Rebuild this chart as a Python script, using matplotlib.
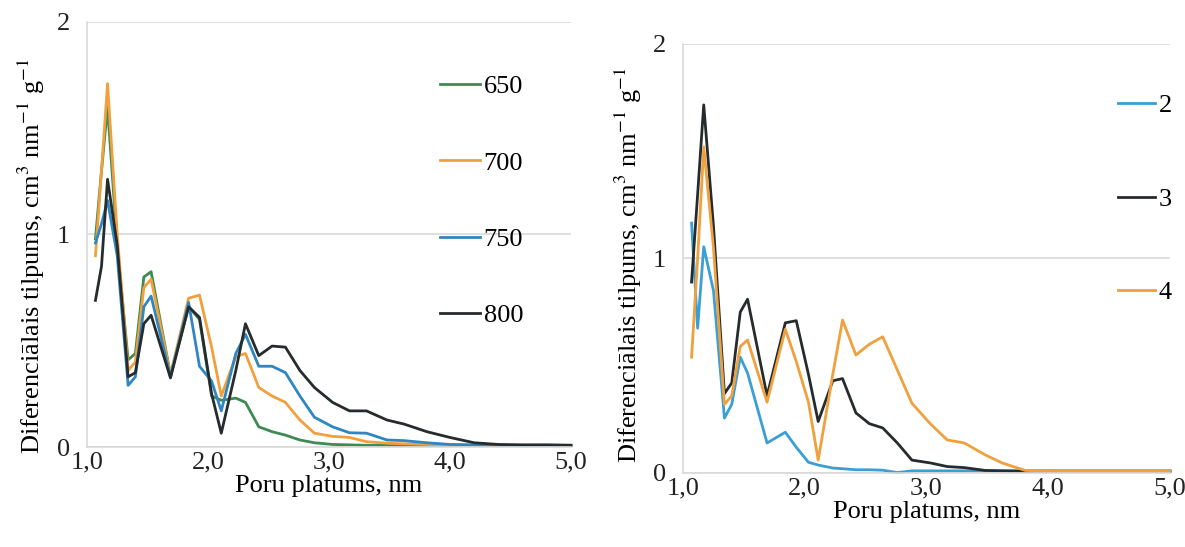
import numpy as np
import matplotlib
matplotlib.use("Agg")
import matplotlib.pyplot as plt

plt.rcParams['font.family'] = ['Liberation Serif', 'DejaVu Serif']
plt.rcParams['mathtext.fontset'] = 'stix'

# Poru platums, nm (kopigs rezgis abiem grafikiem)
x = [1.07, 1.12, 1.17, 1.25, 1.34, 1.40, 1.47, 1.53, 1.69, 1.84, 1.93, 2.03,
     2.11, 2.23, 2.31, 2.42, 2.53, 2.64, 2.76, 2.88, 3.03, 3.17, 3.31, 3.48,
     3.62, 3.81, 4.00, 4.20, 4.40, 4.60, 4.80, 5.00]

# kreisais grafiks
y650 = [0.98, 1.30, 1.60, 0.95, 0.41, 0.44, 0.80, 0.825, 0.34, 0.66, 0.60, 0.24,
        0.22, 0.23, 0.21, 0.095, 0.072, 0.056, 0.033, 0.020, 0.012, 0.010, 0.008, 0.008,
        0.008, 0.008, 0.008, 0.008, 0.008, 0.008, 0.008, 0.008]
y700 = [0.90, 1.30, 1.71, 1.00, 0.36, 0.40, 0.75, 0.79, 0.34, 0.70, 0.715, 0.47,
        0.24, 0.425, 0.44, 0.28, 0.24, 0.21, 0.127, 0.065, 0.050, 0.045, 0.025, 0.018,
        0.015, 0.012, 0.010, 0.008, 0.008, 0.008, 0.008, 0.008]
y750 = [0.96, 1.05, 1.16, 0.90, 0.29, 0.33, 0.66, 0.71, 0.33, 0.68, 0.38, 0.31,
        0.17, 0.44, 0.53, 0.38, 0.38, 0.35, 0.24, 0.14, 0.095, 0.067, 0.065, 0.033,
        0.030, 0.020, 0.012, 0.010, 0.008, 0.008, 0.008, 0.008]
y800 = [0.69, 0.85, 1.26, 0.95, 0.33, 0.35, 0.58, 0.62, 0.325, 0.66, 0.61, 0.25,
        0.065, 0.36, 0.58, 0.43, 0.475, 0.47, 0.36, 0.28, 0.21, 0.17, 0.17, 0.127,
        0.108, 0.072, 0.045, 0.020, 0.012, 0.010, 0.010, 0.008]

# labais grafiks
y2 = [1.165, 0.675, 1.055, 0.85, 0.256, 0.32, 0.54, 0.466, 0.14, 0.19, 0.12, 0.05,
      0.037, 0.023, 0.020, 0.015, 0.015, 0.013, 0.002, 0.010, 0.010, 0.010, 0.010, 0.010,
      0.010, 0.010, 0.010, 0.010, 0.010, 0.010, 0.010, 0.010]
y3 = [0.89, 1.30, 1.716, 1.15, 0.37, 0.42, 0.75, 0.81, 0.36, 0.70, 0.71, 0.46,
      0.24, 0.43, 0.44, 0.28, 0.23, 0.21, 0.14, 0.06, 0.047, 0.030, 0.025, 0.012,
      0.010, 0.008, 0.008, 0.008, 0.008, 0.008, 0.008, 0.008]
y4 = [0.54, 1.00, 1.52, 1.05, 0.32, 0.36, 0.59, 0.62, 0.33, 0.67, 0.52, 0.33,
      0.06, 0.46, 0.713, 0.55, 0.60, 0.635, 0.48, 0.325, 0.23, 0.154, 0.14, 0.085,
      0.047, 0.012, 0.008, 0.008, 0.008, 0.008, 0.008, 0.008]

xticks = [1, 2, 3, 4, 5]
xticklabels = ["1,0", "2,0", "3,0", "4,0", "5,0"]
yticks = [0, 1, 2]

ylab = 'Diferenciālais tilpums, cm$^3$ nm$^{-1}$ g$^{-1}$'
xlab = 'Poru platums, nm'
FS = 19
grid_c = '#d9d9d9'
LW = 2.0


def style(ax, ylab_xy):
    ax.set_xlim(1, 5)
    ax.set_ylim(0, 2)
    ax.set_xticks(xticks)
    ax.set_xticklabels(xticklabels)
    ax.set_yticks(yticks)
    ax.tick_params(length=0, labelsize=FS, colors='#222222')
    ax.tick_params(axis='y', pad=12)
    ax.tick_params(axis='x', pad=3)
    for s in ['top', 'right']:
        ax.spines[s].set_visible(False)
    for s in ['left', 'bottom']:
        ax.spines[s].set_color(grid_c)
        ax.spines[s].set_linewidth(1.2)
    ax.yaxis.grid(True, color=grid_c, linewidth=1.2)
    ax.set_axisbelow(True)
    ax.set_xlabel(xlab, fontsize=FS, labelpad=1)
    ax.set_ylabel(ylab, fontsize=19)
    ax.yaxis.set_label_coords(*ylab_xy)


fig = plt.figure(figsize=(11.85, 5.47), dpi=100)

ax1 = fig.add_axes([0.0734, 0.1828, 0.4084, 0.777])
ax1.plot(x, y650, color='#3d8a52', lw=LW, label='650', clip_on=False)
ax1.plot(x, y700, color='#f0a03c', lw=LW, label='700', clip_on=False)
ax1.plot(x, y750, color='#2f86c0', lw=LW, label='750', clip_on=False)
ax1.plot(x, y800, color='#262b2e', lw=LW, label='800', clip_on=False)
style(ax1, (-0.082, 0.45))
ax1.legend(loc='upper left', bbox_to_anchor=(440 / 1185, 1 - 75 / 547),
           bbox_transform=fig.transFigure, frameon=False, fontsize=FS,
           labelspacing=2.0, handlelength=1.5, handletextpad=0.15,
           borderpad=0, borderaxespad=0)

ax2 = fig.add_axes([0.5764, 0.1353, 0.411, 0.7843])
ax2.plot(x, y2, color='#3a9fd6', lw=LW, label='2', clip_on=False)
ax2.plot(x, y3, color='#262b2e', lw=LW, label='3', clip_on=False)
ax2.plot(x, y4, color='#f0a03c', lw=LW, label='4', clip_on=False)
style(ax2, (-0.08, 0.485))
ax2.legend(loc='upper left', bbox_to_anchor=(1118 / 1185, 1 - 94 / 547),
           bbox_transform=fig.transFigure, frameon=False, fontsize=FS,
           labelspacing=2.65, handlelength=1.4, handletextpad=0.15,
           borderpad=0, borderaxespad=0)

fig.savefig('out.png', dpi=100)
